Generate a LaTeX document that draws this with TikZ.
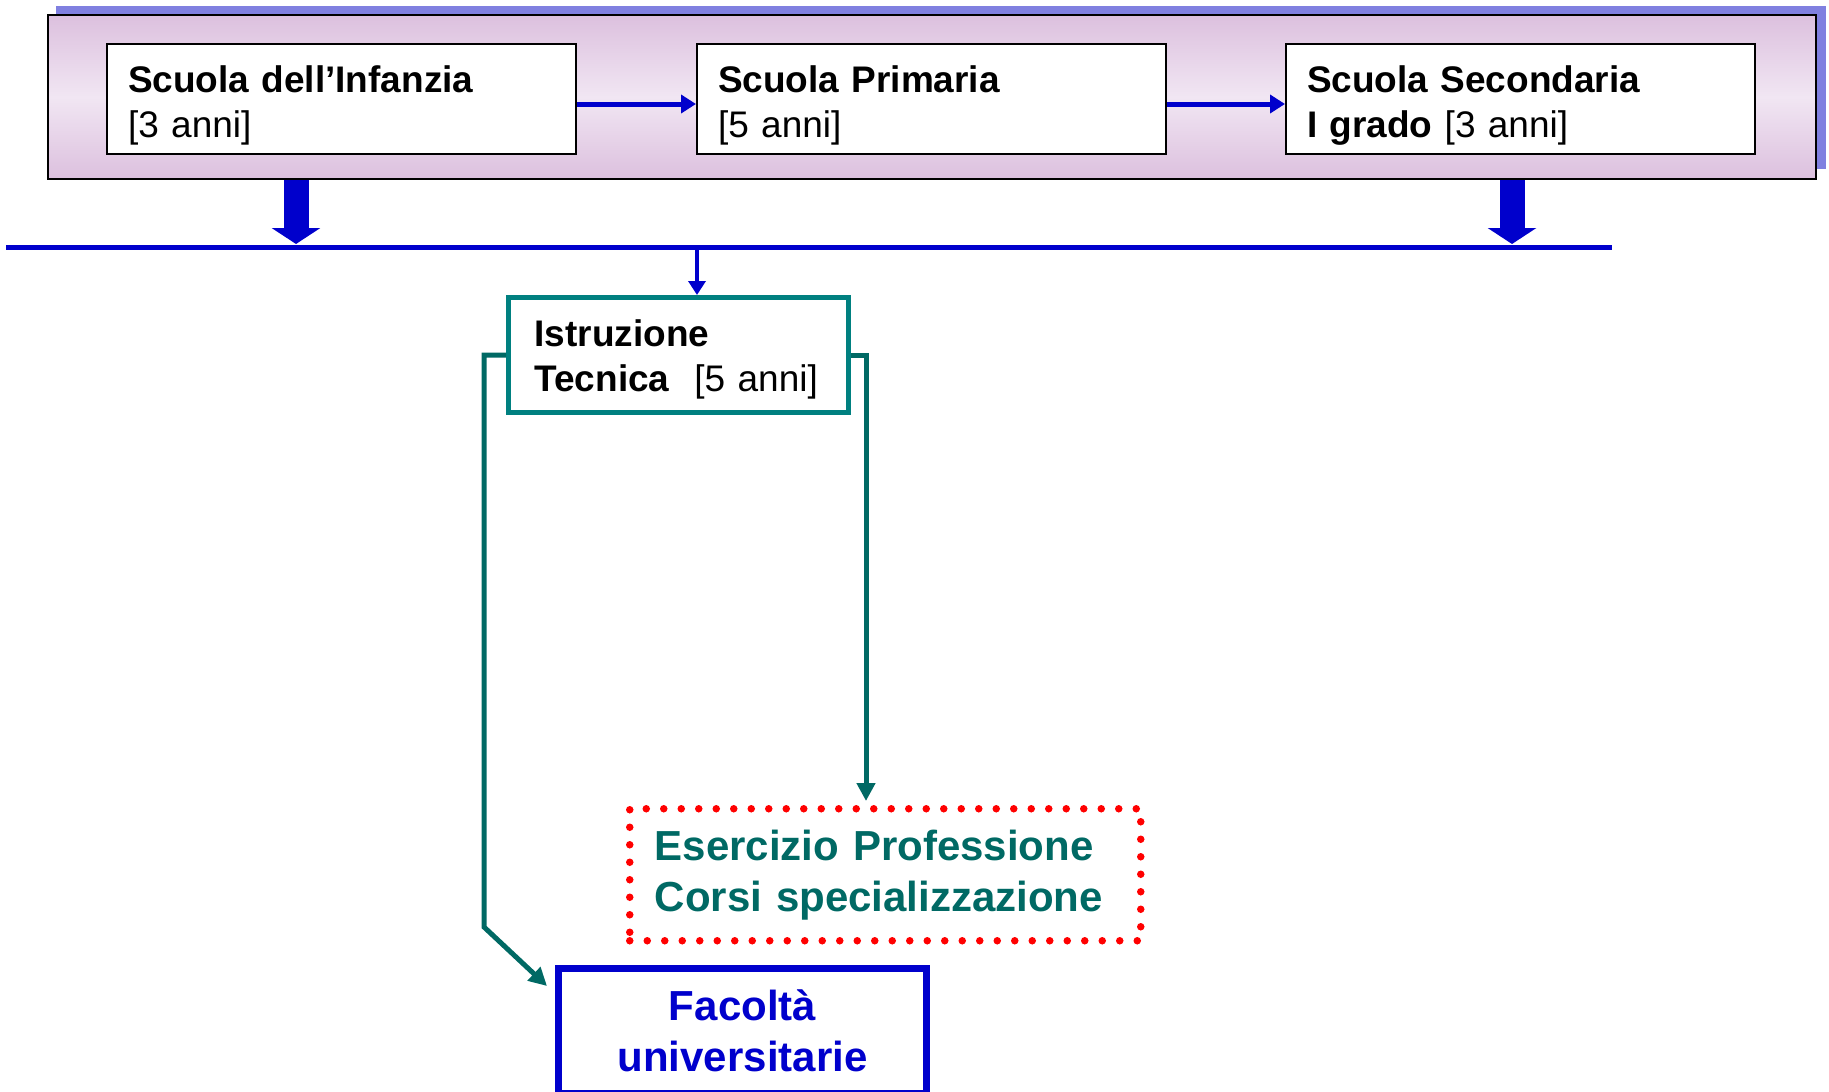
\documentclass[tikz,border=0pt]{standalone}
\usepackage{fontspec}
\setmainfont{Liberation Sans}
\usetikzlibrary{arrows.meta}
\definecolor{dblue}{RGB}{0,0,204}
\definecolor{pdark}{RGB}{220,192,222}
\definecolor{plight}{RGB}{241,230,243}
\definecolor{shblue}{RGB}{128,128,224}
\definecolor{tealbox}{RGB}{0,128,128}
\definecolor{tealline}{RGB}{0,105,100}
\definecolor{dred}{RGB}{255,0,0}
\newcommand{\topstrut}[1]{\rule{0pt}{#1}}
\tikzset{
  schoolbox/.style={draw=black, line width=2pt, fill=white, anchor=north west,
    minimum width=469pt, minimum height=110pt, text width=427pt, inner xsep=21pt,
    align=left, font=\fontsize{37}{45}\selectfont},
  smallarrow/.style={draw=dblue, line width=5pt, -{Triangle[length=15pt,width=18pt]}},
  fatarrow/.style={draw=dblue, line width=25pt, -{Triangle[length=16pt,width=48pt]}},
  tealconn/.style={draw=tealline, line width=5pt, -{Triangle[length=18pt,width=18pt]}},
}
\begin{document}
\begin{tikzpicture}[x=1pt,y=-1pt]
\useasboundingbox (0,0) rectangle (1829,1092);
% frame with shadow
\node[fill=shblue, anchor=north west, minimum width=1770pt, minimum height=163pt, inner sep=0pt] (shadow) at (56,6) {};
\node[draw=black, line width=2pt, top color=pdark, bottom color=pdark, middle color=plight,
  anchor=north west, minimum width=1768pt, minimum height=164pt, inner sep=0pt] (frame) at (47,14) {};
% school boxes
\node[schoolbox] (b1) at (106,43) {\topstrut{39pt}\textbf{Scuola dell’Infanzia}\\{[3 anni]}};
\node[schoolbox] (b2) at (696,43) {\topstrut{39pt}\textbf{Scuola Primaria}\\{[5 anni]}};
\node[schoolbox] (b3) at (1285,43) {\topstrut{39pt}\textbf{Scuola Secondaria}\\\textbf{I grado} [3 anni]};
\draw[smallarrow] ([yshift=-5pt]b1.east) -- ([yshift=-5pt]b2.west);
\draw[smallarrow] ([yshift=-5pt]b2.east) -- ([yshift=-5pt]b3.west);
% horizontal line
\coordinate (hl) at (6,247);
\coordinate (hr) at (1612,247);
\draw[dblue, line width=5pt] (hl) -- (hr);
\coordinate (fa1) at (296,244);
\coordinate (fa2) at (1512,244);
\draw[fatarrow] (fa1 |- frame.south) -- (fa1);
\draw[fatarrow] (fa2 |- frame.south) -- (fa2);
% Istruzione tecnica
\node[draw=tealbox, line width=5pt, fill=white, anchor=north west, minimum width=340pt,
  minimum height=115pt, text width=288pt, inner xsep=26pt, align=left,
  font=\fontsize{37}{45}\selectfont] (ist) at (506,295)
  {\topstrut{36pt}\textbf{Istruzione}\\\textbf{Tecnica}\ \ [5 anni]};
\coordinate (j) at (697,247);
\draw[draw=dblue, line width=4pt, -{Triangle[length=14pt,width=17pt]}] (j) -- (ist.north -| j);
% Esercizio box
\node[draw=dred, line width=7.5pt, dash pattern=on 0pt off 17.5pt, line cap=round,
  anchor=north west, minimum width=511pt, minimum height=132pt, text width=461pt,
  inner xsep=25pt, align=left, text=tealline,
  font=\bfseries\fontsize{42}{51}\selectfont] (esc) at (626,805)
  {Esercizio Professione\\Corsi specializzazione};
% Facolta box
\node[draw=dblue, line width=7pt, anchor=north west, minimum width=368pt,
  minimum height=125pt, align=center, text=dblue,
  font=\bfseries\fontsize{42}{51}\selectfont] (fac) at (555,965)
  {Facoltà\\universitarie};
% teal connectors
\coordinate (lc) at (484,927);
\coordinate (lt) at (547,986);
\draw[tealconn] (ist.west) -| (lc) -- (lt);
\coordinate (rc) at (866,801);
\draw[tealconn] (ist.east) -| (rc);
\end{tikzpicture}
\end{document}
